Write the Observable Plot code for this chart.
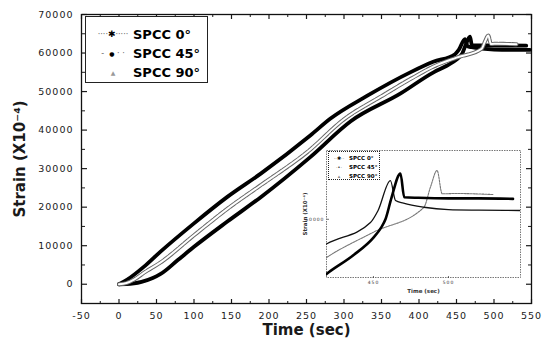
<!DOCTYPE html>
<html>
<head>
<meta charset="utf-8">
<script src="https://cdn.jsdelivr.net/npm/d3@7"></script>
<script src="https://cdn.jsdelivr.net/npm/@observablehq/plot@0.6"></script>
<style>
  body { margin: 0; background: #fff; }
  #wrap { position: relative; width: 551px; height: 349px; overflow: hidden; font-family: "DejaVu Sans", sans-serif; }
  #wrap svg g[aria-label="x-axis tick label"], #wrap svg g[aria-label="y-axis tick label"] { letter-spacing: 1px; }
  .legend { position: absolute; background: #fff; border: 1px solid #222; box-sizing: border-box; }
  .legend .sym { position: absolute; text-align: center; color: #000; white-space: nowrap; }
  .legend .lab { position: absolute; font-weight: bold; color: #000; white-space: nowrap; }
  .dots { color: #666; }
</style>
</head>
<body>
<div id="wrap"></div>
<script>
// ---- data ----
const seriesNames = ["SPCC 0°", "SPCC 45°", "SPCC 90°"];

// SPCC 0° (thick, lower band)
const time0   = [0, 10, 20, 30, 45, 55, 78, 100, 144, 189, 255, 309, 375, 420, 437, 450, 455, 458, 462, 468, 470.5, 480, 500, 520, 543];
const strain0 = [0, 30, 200, 600, 1600, 2600, 6200, 9700, 16200, 22600, 33000, 42300, 49450, 55050, 56700, 58300, 59200, 60000, 62000, 64250, 62050, 62000, 61950, 61950, 61900];

// SPCC 45° (upper band)
const time45   = [0, 11, 33, 55, 100, 144, 189, 255, 282, 330, 389, 419, 448, 453, 461.3, 464.7, 470, 483.6, 500, 520, 548];
const strain45 = [0, 1200, 4500, 8400, 15800, 22600, 28700, 38600, 43000, 48800, 55050, 57720, 59700, 60800, 63600, 61750, 61500, 61120, 60900, 60850, 60820];

// SPCC 90° (middle band)
const time90   = [0, 10, 20, 35, 55, 100, 144, 189, 251, 300, 350, 389, 419, 450, 483.6, 488, 492.4, 495.8, 505, 530];
const strain90 = [0, 300, 1200, 3200, 5600, 12700, 19500, 25700, 34300, 42800, 48800, 53300, 56470, 58800, 61120, 63000, 64540, 62370, 62400, 62300];

const xTicks = [-50, 0, 50, 100, 150, 200, 250, 300, 350, 400, 450, 500, 550];
const xMinor = [-25, 25, 75, 125, 175, 225, 275, 325, 375, 425, 475, 525];
const yTicks = [0, 10000, 20000, 30000, 40000, 50000, 60000, 70000];
const yMinor = [-5000, 5000, 15000, 25000, 35000, 45000, 55000, 65000];

const insetXTicks = [450, 500];
const insetYTicks = [60000];

const xTitle = "Time (sec)";
const yTitle = "Strain (X10⁻⁴)";

// ---- build tables ----
const rows = (t, s, name) => t.map((x, i) => ({time: x, strain: s[i], series: name}));
const d0 = rows(time0, strain0, seriesNames[0]);
const d45 = rows(time45, strain45, seriesNames[1]);
const d90 = rows(time90, strain90, seriesNames[2]);

const blank = () => "";
// inward ticks: tick direction from `anchor`, position from `frameAnchor`
const inX = (ticks, size, w) => [
  Plot.axisX({anchor: "top", frameAnchor: "bottom", ticks, tickSize: size, tickFormat: blank, label: null, strokeWidth: w}),
  Plot.axisX({anchor: "bottom", frameAnchor: "top", ticks, tickSize: size, tickFormat: blank, label: null, strokeWidth: w})
];
const inY = (ticks, size, w) => [
  Plot.axisY({anchor: "right", frameAnchor: "left", ticks, tickSize: size, tickFormat: blank, label: null, strokeWidth: w}),
  Plot.axisY({anchor: "left", frameAnchor: "right", ticks, tickSize: size, tickFormat: blank, label: null, strokeWidth: w})
];

const main = Plot.plot({
  width: 551, height: 349,
  marginLeft: 81, marginRight: 20, marginTop: 14, marginBottom: 46,
  x: {domain: [-50, 550]},
  y: {domain: [-5000, 70000]},
  style: {background: "white", fontFamily: "DejaVu Sans", fontSize: "9.5px", color: "#1a1a1a"},
  marks: [
    // tick labels
    Plot.axisX({anchor: "bottom", ticks: xTicks, tickSize: 0, tickPadding: 9, tickFormat: d => String(d), label: null}),
    Plot.axisY({anchor: "left", ticks: yTicks, tickSize: 0, tickPadding: 8, tickFormat: d => String(d), label: null}),
    // inward ticks
    ...inX(xTicks, 5, 1.2), ...inY(yTicks, 5, 1.2),
    ...inX(xMinor, 3, 1), ...inY(yMinor, 3, 1),
    Plot.frame({stroke: "#111", strokeWidth: 1.3}),
    // curves
    Plot.line(d45, {x: "time", y: "strain", stroke: "#000", strokeWidth: 3.8, curve: "monotone-x", strokeLinejoin: "round"}),
    Plot.line(d0, {x: "time", y: "strain", stroke: "#000", strokeWidth: 3.8, curve: "monotone-x", strokeLinejoin: "round"}),
    Plot.line(d90, {x: "time", y: "strain", stroke: "#666", strokeWidth: 4, strokeDasharray: "5,1.5", curve: "monotone-x"}),
    Plot.line(d90, {x: "time", y: "strain", stroke: "#fff", strokeWidth: 2, curve: "monotone-x"}),
    // axis titles
    Plot.text([xTitle], {text: d => d, frameAnchor: "bottom", lineAnchor: "middle", dy: 27, fontSize: 15, fontWeight: "bold", fontFamily: "DejaVu Sans"}),
    Plot.text([yTitle], {text: d => d, frameAnchor: "left", textAnchor: "middle", lineAnchor: "middle", rotate: -90, dx: -61, fontSize: 15, fontWeight: "bold", fontFamily: "DejaVu Sans"})
  ]
});

const inset = Plot.plot({
  width: 230, height: 160,
  marginLeft: 26, marginRight: 10, marginTop: 10, marginBottom: 23,
  x: {domain: [418.7, 548]},
  y: {domain: [54585, 66400]},
  style: {background: "transparent", fontFamily: "DejaVu Sans", fontSize: "4.5px", color: "#333"},
  marks: [
    Plot.frame({stroke: "#555", strokeWidth: 0.8, strokeDasharray: "1.5,1"}),
    Plot.axisX({anchor: "bottom", ticks: insetXTicks, tickSize: 0, tickPadding: 3, tickFormat: d => String(d), label: null}),
    Plot.axisY({anchor: "left", ticks: insetYTicks, tickSize: 0, tickPadding: 2, tickFormat: d => String(d), label: null}),
    Plot.axisX({anchor: "top", frameAnchor: "bottom", ticks: insetXTicks, tickSize: 2, tickFormat: blank, label: null, strokeWidth: 0.7}),
    Plot.axisY({anchor: "right", frameAnchor: "left", ticks: insetYTicks, tickSize: 2, tickFormat: blank, label: null, strokeWidth: 0.7}),
    Plot.line(d90, {x: "time", y: "strain", stroke: "#777", strokeWidth: 1.1, strokeDasharray: "2,1", curve: "monotone-x", clip: true}),
    Plot.line(d45, {x: "time", y: "strain", stroke: "#111", strokeWidth: 1.3, curve: "monotone-x", clip: true}),
    Plot.line(d0, {x: "time", y: "strain", stroke: "#000", strokeWidth: 2.6, curve: "monotone-x", clip: true}),
    Plot.text([xTitle], {text: d => d, frameAnchor: "bottom", lineAnchor: "middle", dy: 14, fontSize: 5.5, fontWeight: "bold"}),
    Plot.text([yTitle], {text: d => d, frameAnchor: "left", textAnchor: "middle", lineAnchor: "middle", rotate: -90, dx: -21, fontSize: 5.5, fontWeight: "bold"})
  ]
});

const wrap = document.getElementById("wrap");
wrap.appendChild(main);
inset.style.position = "absolute";
inset.style.left = "300px";
inset.style.top = "140px";
wrap.appendChild(inset);

// ---- legends ----
const mainSymbols = [
  '<span class="dots">····</span><span style="font-size:9px">✱</span><span class="dots">·····</span>',
  '<span class="dots">-&nbsp;&nbsp;</span><span style="font-size:6px">●</span><span class="dots">&nbsp;·&nbsp;·</span>',
  '<span style="color:#999;font-size:6px">▲</span>'
];
function makeLegend(o) {
  const box = document.createElement("div");
  box.className = "legend";
  Object.assign(box.style, {left: o.left + "px", top: o.top + "px", width: o.width + "px", height: o.height + "px", borderStyle: o.border});
  seriesNames.forEach((name, i) => {
    const sym = document.createElement("div");
    sym.className = "sym";
    sym.innerHTML = o.symbols[i];
    Object.assign(sym.style, {left: o.symLeft + "px", width: o.symWidth + "px", top: (o.rowY[i] - o.symSize * 0.6) + "px", fontSize: o.symSize + "px", lineHeight: (o.symSize * 1.2) + "px"});
    const lab = document.createElement("div");
    lab.className = "lab";
    lab.textContent = name;
    Object.assign(lab.style, {left: o.textLeft + "px", top: (o.rowY[i] - o.fontSize * 0.6) + "px", fontSize: o.fontSize + "px", lineHeight: (o.fontSize * 1.2) + "px"});
    box.appendChild(sym);
    box.appendChild(lab);
  });
  wrap.appendChild(box);
}
makeLegend({left: 85, top: 16, width: 123, height: 67, border: "solid", symbols: mainSymbols,
  symLeft: 11, symWidth: 32, rowY: [18, 37, 56], symSize: 8, textLeft: 47, fontSize: 13});
makeLegend({left: 328, top: 151, width: 52, height: 29, border: "dotted", symbols: [
  '<span class="dots">··</span>✱<span class="dots">··</span>',
  '<span class="dots">·</span>•<span class="dots">·</span>',
  '<span style="color:#888">▴</span>'],
  symLeft: 1, symWidth: 18, rowY: [6, 15, 24], symSize: 5, textLeft: 20, fontSize: 5.5});
</script>
</body>
</html>
